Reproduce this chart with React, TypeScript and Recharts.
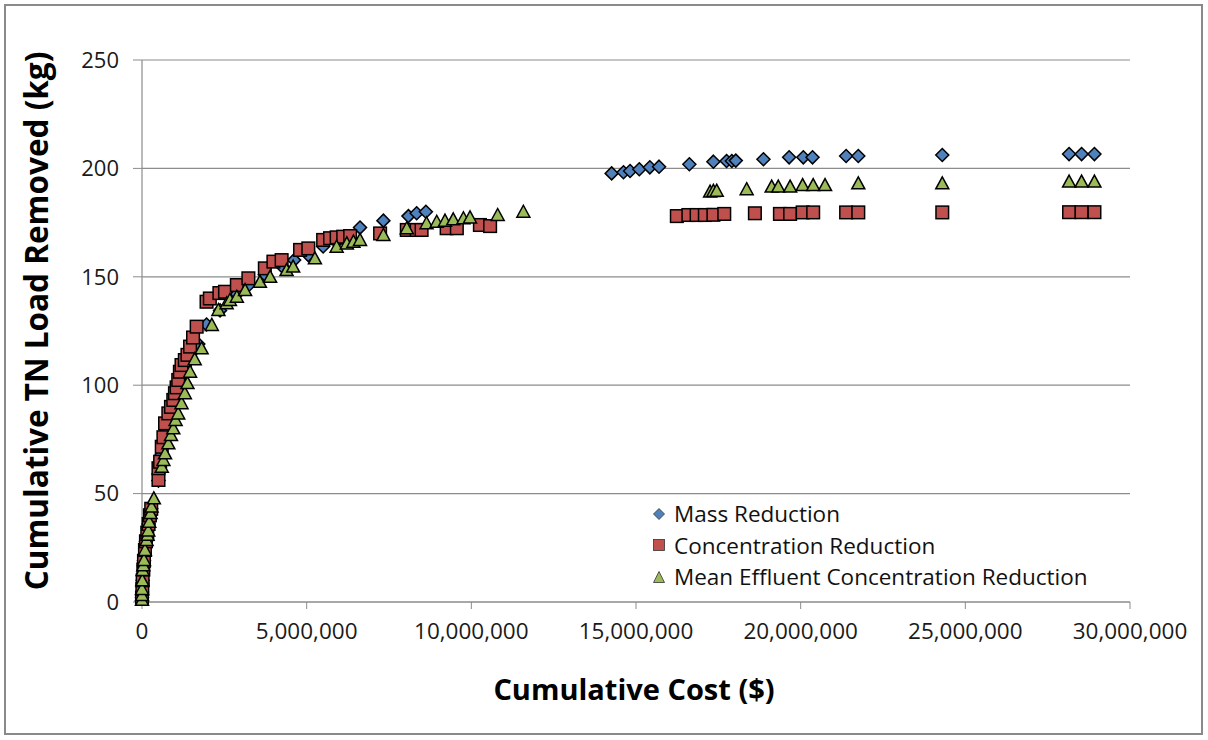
import React from 'react';
import { ScatterChart, Scatter, XAxis, YAxis, CartesianGrid } from 'recharts';

// cumulative cost in millions of $, cumulative TN load removed in kg
const massCost = [
  0, 0.02, 0.06, 0.12, 0.2, 0.28, 0.5, 0.6, 0.7, 0.8, 0.95, 1.1, 1.2, 1.3, 1.46, 1.71, 1.96, 2.37, 2.88,
  3.23, 3.73, 4.24, 4.62, 5.05, 5.5, 5.91, 6.32, 6.62, 7.33, 8.09, 8.34, 8.62, 14.26, 14.62, 14.82, 15.1,
  15.42, 15.7, 16.62, 17.35, 17.75, 17.91, 18.03, 18.87, 19.65, 20.08, 20.36, 21.38, 21.75, 24.3, 28.15,
  28.53, 28.92,
];
const massLoad = [
  2, 10, 19, 28, 36, 43, 56, 68, 78, 84, 90, 98, 104, 108, 114, 119, 128, 134.5, 142, 146, 151, 155,
  157.7, 160, 164, 166, 168, 172.7, 175.9, 178, 179.3, 180, 197.7, 198.2, 198.8, 199.6, 200.5, 200.8,
  201.9, 203.1, 203.4, 203.4, 203.6, 204.2, 205.1, 205.1, 205.1, 205.7, 205.7, 206.2, 206.6, 206.6, 206.6,
];

const concCost = [
  0, 0.01, 0.02, 0.04, 0.06, 0.09, 0.12, 0.16, 0.2, 0.24, 0.28, 0.5, 0.5, 0.55, 0.6, 0.65, 0.7, 0.8,
  0.88, 0.95, 1.0, 1.05, 1.1, 1.15, 1.2, 1.3, 1.38, 1.46, 1.55, 1.66, 1.96, 2.06, 2.35, 2.52, 2.88, 3.23,
  3.73, 3.99, 4.24, 4.8, 5.05, 5.5, 5.71, 5.91, 6.11, 6.32, 7.23, 8.04, 8.34, 8.49, 9.25, 9.56, 10.26,
  10.57, 16.24, 16.59, 16.84, 17.09, 17.35, 17.68, 18.61, 19.37, 19.68, 20.06, 20.38, 21.38, 21.75,
  24.3, 28.15, 28.53, 28.92,
];
const concLoad = [
  2, 6, 10, 15, 19, 24, 28, 32, 36, 40, 43, 56.3, 61.7, 64.7, 71.6, 76, 82.4, 87, 90, 93.2, 96.3, 99,
  102.4, 106.2, 109.3, 111.6, 114, 117.8, 122, 127, 138.5, 140, 142.5, 143.1, 146.2, 149.3, 153.9, 157,
  157.7, 162.4, 163.1, 167, 167.8, 168.2, 168.5, 168.8, 170, 171.6, 171.6, 171.6, 172.4, 172.4, 173.9,
  173.4, 178, 178.5, 178.5, 178.5, 178.6, 179, 179.3, 179, 179, 179.7, 179.7, 179.7, 179.7, 179.7,
  179.8, 179.8, 179.8,
];

const meanCost = [
  0, 0, 0, 0.01, 0.02, 0.04, 0.06, 0.09, 0.14, 0.17, 0.19, 0.22, 0.26, 0.29, 0.36, 0.6, 0.65, 0.7, 0.8,
  0.88, 0.95, 1.02, 1.1, 1.2, 1.3, 1.38, 1.46, 1.6, 1.81, 2.12, 2.32, 2.57, 2.67, 2.88, 3.13, 3.58, 3.89,
  4.39, 4.59, 5.25, 5.91, 6.22, 6.42, 6.62, 7.33, 8.04, 8.64, 8.95, 9.2, 9.45, 9.76, 9.96, 10.8, 11.58,
  17.25, 17.35, 17.45, 18.36, 19.12, 19.32, 19.68, 20.06, 20.38, 20.74, 21.75, 24.3, 28.15, 28.53, 28.92,
];
const meanLoad = [
  1, 3.2, 6, 10, 14.8, 17, 19.4, 24, 28.6, 31, 33, 37, 41, 44, 47.8, 62.4, 65.5, 68.6, 73.2, 77, 80.1,
  84, 87, 91.7, 96.3, 101, 106.2, 112, 117, 127.8, 134.7, 137.8, 139.3, 140.8, 143.9, 147.7, 150, 153.1,
  154.7, 158.5, 163.9, 165.4, 166.2, 167, 169.3, 172.4, 174.7, 175.4, 175.9, 176.5, 177, 177.4, 178.5,
  180, 189.3, 189.6, 189.7, 190.4, 191.6, 191.6, 191.6, 192.3, 192.3, 192.3, 193.1, 193.1, 193.9, 193.9,
  193.9,
];

const xTicks = [0, 5, 10, 15, 20, 25, 30];
const yTicks = [0, 50, 100, 150, 200, 250];

const seriesNames = [
  'Mass Reduction',
  'Concentration Reduction',
  'Mean Effluent Concentration Reduction',
];
const seriesColors = ['#4F81BD', '#C0504D', '#9BBB59'];

const toPoints = (xs: number[], ys: number[]) => xs.map((x, i) => ({ cost: x, load: ys[i] }));

const massData = toPoints(massCost, massLoad);
const concData = toPoints(concCost, concLoad);
const meanData = toPoints(meanCost, meanLoad);

const FONT = '"Open Sans", "Liberation Sans", sans-serif';

const Diamond = (props: any) => {
  const { cx, cy, fill } = props;
  const r = 6.5;
  return (
    <path
      d={`M${cx},${cy - r}L${cx + r},${cy}L${cx},${cy + r}L${cx - r},${cy}Z`}
      fill={fill}
      stroke="#000"
      strokeWidth={1.5}
    />
  );
};

const Square = (props: any) => {
  const { cx, cy, fill } = props;
  const h = 6.3;
  return (
    <rect x={cx - h} y={cy - h} width={h * 2} height={h * 2} fill={fill} stroke="#000" strokeWidth={1.5} />
  );
};

const Triangle = (props: any) => {
  const { cx, cy, fill } = props;
  return (
    <path
      d={`M${cx},${cy - 6.5}L${cx + 6.5},${cy + 5.5}L${cx - 6.5},${cy + 5.5}Z`}
      fill={fill}
      stroke="#000"
      strokeWidth={1.5}
    />
  );
};

const legendIcons = [
  (c: string) => <path d="M6,0.5L11.5,6L6,11.5L0.5,6Z" fill={c} stroke="#333" strokeWidth={0.8} />,
  (c: string) => <rect x={0.5} y={0.5} width={11} height={11} fill={c} stroke="#333" strokeWidth={0.8} />,
  (c: string) => <path d="M6,0.5L11.5,11.5L0.5,11.5Z" fill={c} stroke="#333" strokeWidth={0.8} />,
];

const fmtCost = (v: number) => (v * 1000000).toLocaleString('en-US');

export default function App() {
  return (
    <div
      style={{
        position: 'absolute',
        left: 0,
        top: 0,
        width: 1208,
        height: 740,
        background: '#fff',
        fontFamily: FONT,
      }}
    >
      <div
        style={{
          position: 'absolute',
          left: 4,
          top: 4,
          width: 1199,
          height: 731,
          border: '2px solid #8a8a8a',
          boxSizing: 'border-box',
        }}
      />
      <ScatterChart
        width={1208}
        height={740}
        margin={{ top: 60, right: 78, bottom: 98, left: 82 }}
        style={{ fontFamily: FONT }}
      >
        <CartesianGrid vertical={false} stroke="#8c8c8c" strokeWidth={1.2} />
        <XAxis
          type="number"
          dataKey="cost"
          domain={[0, 30]}
          ticks={xTicks}
          tickFormatter={fmtCost}
          height={40}
          tickSize={7}
          tickMargin={14}
          axisLine={{ stroke: '#8c8c8c', strokeWidth: 1.2 }}
          tickLine={{ stroke: '#8c8c8c' }}
          tick={{ fill: '#1a1a1a', fontSize: 22.5 }}
          interval={0}
        />
        <YAxis
          type="number"
          dataKey="load"
          domain={[0, 250]}
          ticks={yTicks}
          width={60}
          tickSize={9}
          tickMargin={14}
          axisLine={{ stroke: '#8c8c8c', strokeWidth: 1.2 }}
          tickLine={{ stroke: '#8c8c8c' }}
          tick={{ fill: '#1a1a1a', fontSize: 22 }}
          interval={0}
        />
        <Scatter
          name={seriesNames[0]}
          data={massData}
          fill={seriesColors[0]}
          shape={Diamond}
          isAnimationActive={false}
        />
        <Scatter
          name={seriesNames[1]}
          data={concData}
          fill={seriesColors[1]}
          shape={Square}
          isAnimationActive={false}
        />
        <Scatter
          name={seriesNames[2]}
          data={meanData}
          fill={seriesColors[2]}
          shape={Triangle}
          isAnimationActive={false}
        />
      </ScatterChart>
      <div
        style={{
          position: 'absolute',
          left: 653,
          top: 498,
          fontSize: 22.5,
          color: '#111',
          lineHeight: '31.5px',
          background: '#fff',
          paddingRight: 6,
        }}
      >
        {seriesNames.map((name, i) => (
          <div key={name} style={{ display: 'flex', alignItems: 'center', whiteSpace: 'nowrap' }}>
            <svg width={12} height={12} style={{ marginRight: 9 }}>
              {legendIcons[i](seriesColors[i])}
            </svg>
            <span>{name}</span>
          </div>
        ))}
      </div>
      <div
        style={{
          position: 'absolute',
          left: 35,
          top: 321,
          transform: 'translate(-50%, -50%) rotate(-90deg)',
          whiteSpace: 'nowrap',
          fontWeight: 700,
          fontSize: 31.5,
          color: '#000',
        }}
      >
        Cumulative TN Load Removed (kg)
      </div>
      <div
        style={{
          position: 'absolute',
          left: 634,
          top: 688,
          transform: 'translate(-50%, -50%)',
          whiteSpace: 'nowrap',
          fontWeight: 700,
          fontSize: 29,
          color: '#000',
        }}
      >
        Cumulative Cost ($)
      </div>
    </div>
  );
}
